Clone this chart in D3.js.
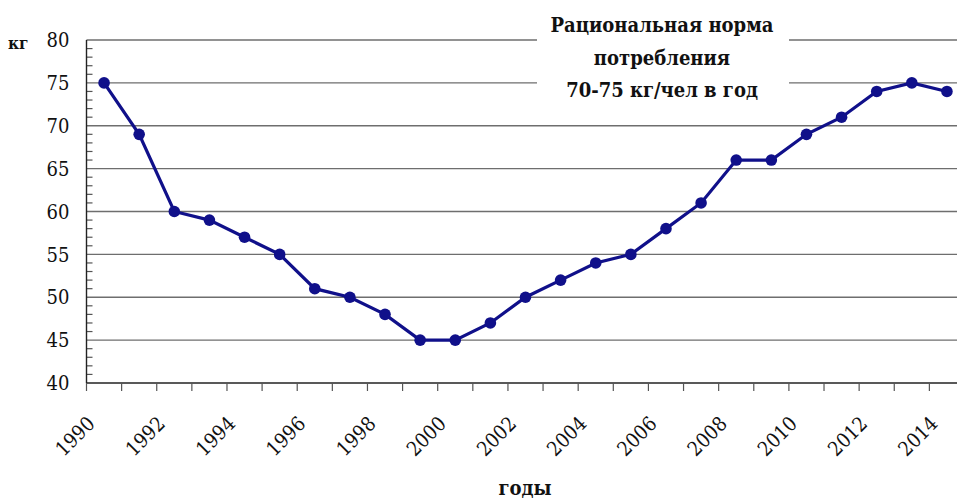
<!DOCTYPE html>
<html>
<head>
<meta charset="utf-8">
<script src="https://cdn.jsdelivr.net/npm/d3@7"></script>
<style>
  body { margin: 0; background: #fff; }
  svg { display: block; }
</style>
</head>
<body>
<script>
// data
var years = [1990, 1991, 1992, 1993, 1994, 1995, 1996, 1997, 1998, 1999, 2000, 2001, 2002,
             2003, 2004, 2005, 2006, 2007, 2008, 2009, 2010, 2011, 2012, 2013, 2014];
var values = [75, 69, 60, 59, 57, 55, 51, 50, 48, 45, 45, 47, 50,
              52, 54, 55, 58, 61, 66, 66, 69, 71, 74, 75, 74];
var yTicks = [40, 45, 50, 55, 60, 65, 70, 75, 80];
var noteLines = ["Рациональная норма", "потребления", "70-75 кг/чел в год"];

var W = 957, H = 500;
var margin = {top: 40, left: 86.5},
    plotW = 878,
    plotH = 343;
var serif = "'DejaVu Serif Condensed', 'DejaVu Serif', serif";

var svg = d3.select("body").append("svg")
    .attr("width", W)
    .attr("height", H)
    .style("font-family", serif);

var g = svg.append("g")
    .attr("transform", "translate(" + margin.left + "," + margin.top + ")");

var x = d3.scaleBand()
    .domain(years)
    .range([0, plotW]);

var y = d3.scaleLinear()
    .domain([40, 80])
    .range([plotH, 0]);

// gridlines
g.selectAll(".grid")
  .data(yTicks.filter(function(d) { return d > 40; }))
  .enter().append("line")
    .attr("class", "grid")
    .attr("x1", 0)
    .attr("x2", plotW)
    .attr("y1", function(d) { return y(d); })
    .attr("y2", function(d) { return y(d); })
    .style("stroke", "#6e6e6e")
    .style("stroke-width", 1.4);

// minor ticks on y axis (inside)
g.selectAll(".minor")
  .data(d3.range(40, 81).filter(function(d) { return d % 5 != 0; }))
  .enter().append("line")
    .attr("x1", 0)
    .attr("x2", 6)
    .attr("y1", function(d) { return y(d); })
    .attr("y2", function(d) { return y(d); })
    .style("stroke", "#555")
    .style("stroke-width", 1.2);

// y axis
g.append("line")
    .attr("x1", 0).attr("x2", 0)
    .attr("y1", 0).attr("y2", plotH)
    .style("stroke", "#222")
    .style("stroke-width", 1.4);

g.selectAll(".ylab")
  .data(yTicks)
  .enter().append("text")
    .attr("x", -17)
    .attr("y", function(d) { return y(d); })
    .attr("dy", "0.36em")
    .attr("text-anchor", "end")
    .attr("font-size", 20)
    .attr("fill", "#111")
    .text(function(d) { return d; });

// x axis
g.append("line")
    .attr("x1", 0).attr("x2", plotW)
    .attr("y1", plotH).attr("y2", plotH)
    .style("stroke", "#222")
    .style("stroke-width", 1.4);

g.selectAll(".xtick")
  .data(years)
  .enter().append("line")
    .attr("x1", function(d) { return x(d); })
    .attr("x2", function(d) { return x(d); })
    .attr("y1", plotH)
    .attr("y2", plotH + 8)
    .style("stroke", "#555")
    .style("stroke-width", 1.2);

g.selectAll(".xlab")
  .data(years.filter(function(d) { return d % 2 == 0; }))
  .enter().append("text")
    .attr("transform", function(d) {
      return "translate(" + (x(d) + x.bandwidth() / 2 - 8) + "," + (plotH + 42) + ") rotate(-45)";
    })
    .attr("text-anchor", "end")
    .attr("font-size", 20)
    .attr("fill", "#111")
    .text(function(d) { return d; });

// line + markers
var line = d3.line()
    .x(function(d, i) { return x(years[i]) + x.bandwidth() / 2; })
    .y(function(d) { return y(d); });

g.append("path")
    .datum(values)
    .attr("d", line)
    .style("fill", "none")
    .style("stroke", "#10108a")
    .style("stroke-width", 3.2);

g.selectAll(".dot")
  .data(values)
  .enter().append("circle")
    .attr("cx", function(d, i) { return x(years[i]) + x.bandwidth() / 2; })
    .attr("cy", function(d) { return y(d); })
    .attr("r", 5.8)
    .style("fill", "#10108a");

// annotation box
svg.append("rect")
    .attr("x", 537)
    .attr("y", 0)
    .attr("width", 252)
    .attr("height", 105)
    .style("fill", "#fff");

svg.selectAll(".note")
  .data(noteLines)
  .enter().append("text")
    .attr("x", 662)
    .attr("y", function(d, i) { return 32 + i * 32.5; })
    .attr("text-anchor", "middle")
    .attr("font-size", 20)
    .attr("font-weight", "bold")
    .attr("fill", "#111")
    .text(function(d) { return d; });

// axis titles
svg.append("text")
    .attr("x", 8)
    .attr("y", 49)
    .attr("font-size", 17)
    .attr("font-weight", "bold")
    .attr("fill", "#111")
    .text("кг");

svg.append("text")
    .attr("x", 525)
    .attr("y", 495)
    .attr("text-anchor", "middle")
    .attr("font-size", 20)
    .attr("font-weight", "bold")
    .attr("fill", "#111")
    .text("годы");
</script>
</body>
</html>
